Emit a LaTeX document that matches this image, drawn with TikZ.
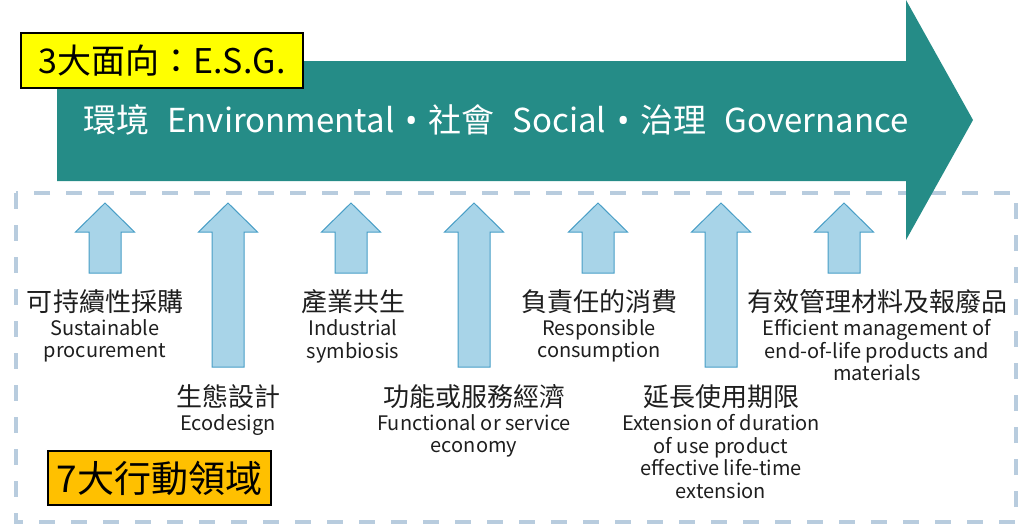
\documentclass[tikz,border=0pt]{standalone}
\usepackage{fontspec}
\setmainfont{Noto Sans CJK TC}
\newfontfamily\bulletfont{Noto Sans}
\usetikzlibrary{positioning}
\definecolor{esgteal}{RGB}{37,140,135}
\definecolor{upfill}{RGB}{168,212,232}
\definecolor{upline}{RGB}{72,158,198}
\definecolor{dashblue}{RGB}{184,204,222}
\definecolor{tagyellow}{RGB}{255,255,0}
\definecolor{tagorange}{RGB}{255,192,0}
\definecolor{labelink}{RGB}{30,30,30}
\newcommand{\esgdot}{\hspace{11pt}{\bulletfont •}\hspace{11pt}}
\tikzset{
  tagbox/.style={draw=black, line width=2pt, inner sep=0pt, text=black},
  uparrowbox/.style={fill=upfill, draw=upline, line width=1pt},
  zhlabel/.style={font=\fontsize{26}{30}\selectfont, text=labelink, inner sep=1pt},
  enlabel/.style={font=\fontsize{20}{22.5}\selectfont, text=labelink, align=center, inner sep=1pt},
}
\begin{document}
\begin{tikzpicture}[x=1pt, y=-1pt]
    \useasboundingbox (0,0) rectangle (1024,525);

    % Dashed frame of the action areas
    \draw[draw=dashblue, line width=4pt, dash pattern=on 16pt off 16pt] (16,193) rectangle (1016,522);

    % Big ESG arrow
    \fill[esgteal] (57,61) -- (906,61) -- (906,0) -- (973,120) -- (906,240) -- (906,181) -- (57,181) -- cycle;
    \node[text=white, font=\fontsize{33}{36}\selectfont] (esg) at (496,120)
        {環境\hspace{18pt}Environmental\esgdot 社會\hspace{18pt}Social\esgdot 治理\hspace{18pt}Governance};

    % Tags
    \node[tagbox, fill=tagyellow, minimum width=282pt, minimum height=55pt,
          font=\fontsize{34}{36}\selectfont] (dims) at (162,60.5) {3大面向：E.S.G.};
    \node[tagbox, fill=tagorange, minimum width=223pt, minimum height=54pt,
          font=\fontsize{37}{40}\selectfont] (areas) at (159.5,478) {7大行動領域};

    % Up arrows
    \foreach \x/\y in {105/273, 228/367, 351/273, 474/367, 598/273, 721/367, 844/273}
        \draw[uparrowbox] (\x-16,\y) -- (\x-16,232) -- (\x-29.5,232) -- (\x,203)
            -- (\x+29.5,232) -- (\x+16,232) -- (\x+16,\y) -- cycle;

    % Labels
    \foreach \n/\x/\y/\zh/\en in {
        1/105/302/可持續性採購/{Sustainable\\procurement},
        2/228/397/生態設計/{Ecodesign},
        3/353/302/產業共生/{Industrial\\symbiosis},
        4/474/397/功能或服務經濟/{Functional or service\\economy},
        5/599/302/負責任的消費/{Responsible\\consumption},
        6/721/397/延長使用期限/{Extension of duration\\of use product\\effective life-time\\extension},
        7/877/302/有效管理材料及報廢品/{Efficient management of\\end-of-life products and\\materials}}
    {
        \node[zhlabel] (zh\n) at (\x,\y) {\zh};
        \node[enlabel, below=3pt of zh\n] (en\n) {\en};
    }
\end{tikzpicture}
\end{document}
